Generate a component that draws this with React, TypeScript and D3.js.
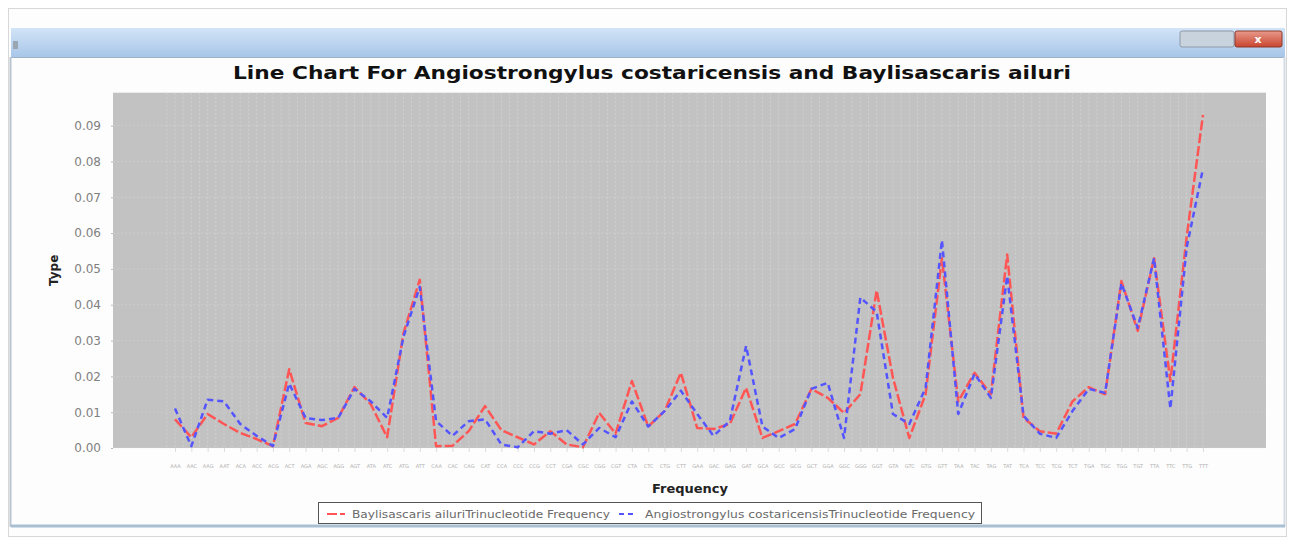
import React, { useEffect, useRef } from 'react';
import * as d3 from 'd3';

// trinucleotide categories (x axis)
const categories = [
  "AAA", "AAC", "AAG", "AAT", "ACA", "ACC", "ACG", "ACT", "AGA", "AGC", "AGG", "AGT", "ATA", "ATC", "ATG", "ATT",
  "CAA", "CAC", "CAG", "CAT", "CCA", "CCC", "CCG", "CCT", "CGA", "CGC", "CGG", "CGT", "CTA", "CTC", "CTG", "CTT",
  "GAA", "GAC", "GAG", "GAT", "GCA", "GCC", "GCG", "GCT", "GGA", "GGC", "GGG", "GGT", "GTA", "GTC", "GTG", "GTT",
  "TAA", "TAC", "TAG", "TAT", "TCA", "TCC", "TCG", "TCT", "TGA", "TGC", "TGG", "TGT", "TTA", "TTC", "TTG", "TTT",
];

const baylisascaris = [
  0.008, 0.003, 0.0095, 0.0067, 0.0042, 0.0025, 0.0005, 0.022, 0.007, 0.0061, 0.0084, 0.017, 0.0122, 0.003, 0.032, 0.047,
  0.0005, 0.0006, 0.0047, 0.0117, 0.005, 0.003, 0.001, 0.0047, 0.001, 0.0002, 0.0098, 0.004, 0.0187, 0.006, 0.0103, 0.021,
  0.0056, 0.0053, 0.0067, 0.0168, 0.0028, 0.0047, 0.0067, 0.0165, 0.014, 0.0098, 0.015, 0.044, 0.0196, 0.0028, 0.015, 0.053,
  0.013, 0.021, 0.015, 0.054, 0.0084, 0.0047, 0.004, 0.013, 0.017, 0.015, 0.0466, 0.0327, 0.053, 0.0187, 0.059, 0.093,
];

const angiostrongylus = [
  0.011, 0.0005, 0.0135, 0.013, 0.0067, 0.0034, 0.0006, 0.018, 0.0084, 0.0078, 0.0084, 0.0165, 0.013, 0.0084, 0.031, 0.045,
  0.0075, 0.0034, 0.0075, 0.008, 0.001, 0.0002, 0.0047, 0.004, 0.005, 0.001, 0.0056, 0.003, 0.013, 0.006, 0.0103, 0.016,
  0.0095, 0.0034, 0.0075, 0.0285, 0.006, 0.0028, 0.0053, 0.0165, 0.0182, 0.0028, 0.042, 0.038, 0.0095, 0.0067, 0.0168, 0.058,
  0.0095, 0.0207, 0.014, 0.048, 0.009, 0.004, 0.0028, 0.0103, 0.0165, 0.0154, 0.046, 0.0335, 0.053, 0.011, 0.056, 0.078,
];

const yTicks = [0, 0.01, 0.02, 0.03, 0.04, 0.05, 0.06, 0.07, 0.08, 0.09];

const seriesNames = [
  "Baylisascaris ailuriTrinucleotide Frequency",
  "Angiostrongylus costaricensisTrinucleotide Frequency",
];

const ChartWindow = () => {
  const svgRef = useRef<SVGSVGElement>(null);

  useEffect(() => {
    const svg = d3.select(svgRef.current);
    svg.selectAll("*").remove();

    const width = 1294;
    const height = 544;
    const plot = { left: 113, right: 1266, top: 92.7, bottom: 448 };
    const font = "DejaVu Sans, sans-serif";

    svg.attr("viewBox", [0, 0, width, height]);

    // window frame
    svg.append("rect").attr("width", width).attr("height", height).attr("fill", "#ffffff");
    svg.append("rect")
      .attr("x", 8.5).attr("y", 8.5).attr("width", 1278).attr("height", 528)
      .attr("fill", "#fdfdfd").attr("stroke", "#d8d8d8");

    const defs = svg.append("defs");
    const grad = defs.append("linearGradient").attr("id", "titlebar").attr("x1", 0).attr("x2", 0).attr("y1", 0).attr("y2", 1);
    grad.append("stop").attr("offset", "0%").attr("stop-color", "#d2e4f7");
    grad.append("stop").attr("offset", "100%").attr("stop-color", "#a8c6e8");
    const grad2 = defs.append("linearGradient").attr("id", "closebtn").attr("x1", 0).attr("x2", 0).attr("y1", 0).attr("y2", 1);
    grad2.append("stop").attr("offset", "0%").attr("stop-color", "#e89a8c");
    grad2.append("stop").attr("offset", "100%").attr("stop-color", "#c9442e");

    svg.append("rect")
      .attr("x", 11).attr("y", 28).attr("width", 1274).attr("height", 29)
      .attr("fill", "url(#titlebar)");
    svg.append("line")
      .attr("x1", 11).attr("x2", 1285).attr("y1", 57.5).attr("y2", 57.5)
      .attr("stroke", "#9fb3c8");
    svg.append("rect")
      .attr("x", 1180).attr("y", 31).attr("width", 54).attr("height", 16)
      .attr("fill", "#c9d3dd").attr("stroke", "#8e9aa8").attr("rx", 2);
    svg.append("rect")
      .attr("x", 1235).attr("y", 31).attr("width", 47).attr("height", 16)
      .attr("fill", "url(#closebtn)").attr("stroke", "#8e3a2c").attr("rx", 2);
    svg.append("text")
      .attr("x", 1258).attr("y", 43).attr("text-anchor", "middle")
      .attr("font-family", font).attr("font-size", 11).attr("font-weight", "bold")
      .attr("fill", "#ffffff").text("x");
    svg.append("rect")
      .attr("x", 13).attr("y", 41).attr("width", 5).attr("height", 8).attr("fill", "#9aa6b2");

    // side and bottom borders of the window content
    svg.append("line").attr("x1", 10.5).attr("x2", 10.5).attr("y1", 57).attr("y2", 527).attr("stroke", "#b9c4cf").attr("stroke-width", 2);
    svg.append("line").attr("x1", 1284.5).attr("x2", 1284.5).attr("y1", 57).attr("y2", 527).attr("stroke", "#d4dce4").attr("stroke-width", 2);
    svg.append("line").attr("x1", 11).attr("x2", 1285).attr("y1", 526).attr("y2", 526).attr("stroke", "#a9bfd3").attr("stroke-width", 3);

    // title
    svg.append("text")
      .attr("x", 652).attr("y", 79).attr("text-anchor", "middle")
      .attr("font-family", font).attr("font-size", 18).attr("font-weight", "bold")
      .attr("fill", "#111111")
      .attr("textLength", 838).attr("lengthAdjust", "spacingAndGlyphs")
      .text("Line Chart For Angiostrongylus costaricensis and Baylisascaris ailuri");

    const x = d3.scalePoint<string>()
      .domain(categories)
      .range([plot.left + 62, plot.right - 63]);

    const y = d3.scaleLinear()
      .domain([0, 0.0992])
      .range([plot.bottom, plot.top]);

    // plot background
    svg.append("rect")
      .attr("x", plot.left).attr("y", plot.top)
      .attr("width", plot.right - plot.left).attr("height", plot.bottom - plot.top)
      .attr("fill", "#c2c2c2");

    // gridlines: JFreeChart draws them at category edges and centres
    const step = x.step();
    const gridX = categories.flatMap(c => [x(c)! - step / 2, x(c)!]);
    svg.append("g")
      .selectAll("line")
      .data(gridX)
      .join("line")
      .attr("x1", d => d).attr("x2", d => d)
      .attr("y1", plot.top).attr("y2", plot.bottom)
      .attr("stroke", "#e2e2e2").attr("stroke-opacity", 0.45).attr("stroke-dasharray", "2,2");
    svg.append("g")
      .selectAll("line")
      .data(yTicks)
      .join("line")
      .attr("x1", plot.left).attr("x2", plot.right)
      .attr("y1", d => y(d)).attr("y2", d => y(d))
      .attr("stroke", "#e6e6e6").attr("stroke-opacity", 0.3).attr("stroke-dasharray", "2,2");

    // y axis
    svg.append("g")
      .attr("transform", `translate(${plot.left},0)`)
      .call(d3.axisLeft(y).tickValues(yTicks).tickFormat(d3.format(".2f")).tickSize(2).tickPadding(10))
      .call(g => g.select(".domain").remove())
      .call(g => g.selectAll(".tick line").attr("stroke", "#bbbbbb"))
      .call(g => g.selectAll(".tick text")
        .attr("font-family", font).attr("font-size", 12).attr("fill", "#808080"));

    svg.append("text")
      .attr("transform", `translate(58,${(plot.top + plot.bottom) / 2}) rotate(-90)`)
      .attr("text-anchor", "middle")
      .attr("font-family", font).attr("font-size", 12).attr("font-weight", "bold")
      .attr("fill", "#222222").text("Type");

    // x axis with tiny category labels
    svg.append("g")
      .attr("transform", `translate(0,${plot.bottom})`)
      .call(d3.axisBottom(x).tickSize(4).tickPadding(12))
      .call(g => g.select(".domain").remove())
      .call(g => g.selectAll(".tick line").attr("stroke", "#dddddd"))
      .call(g => g.selectAll(".tick text")
        .attr("font-family", font).attr("font-size", 5).attr("fill", "#b0b0b0"));

    svg.append("text")
      .attr("x", 690).attr("y", 493).attr("text-anchor", "middle")
      .attr("font-family", font).attr("font-size", 13).attr("font-weight", "bold")
      .attr("fill", "#222222").text("Frequency");

    // lines
    const line = d3.line<number>()
      .x((_, i) => x(categories[i])!)
      .y(d => y(d));

    svg.append("path")
      .datum(baylisascaris)
      .attr("fill", "none")
      .attr("stroke", "#ff5555")
      .attr("stroke-width", 2.5)
      .attr("stroke-dasharray", "10,3")
      .attr("stroke-linejoin", "round")
      .attr("d", line);

    svg.append("path")
      .datum(angiostrongylus)
      .attr("fill", "none")
      .attr("stroke", "#5555ff")
      .attr("stroke-width", 2.5)
      .attr("stroke-dasharray", "6,4")
      .attr("stroke-linejoin", "round")
      .attr("d", line);

    // legend
    const legend = svg.append("g");
    legend.append("rect")
      .attr("x", 318.5).attr("y", 502.5).attr("width", 663).attr("height", 21)
      .attr("fill", "#ffffff").attr("stroke", "#555555");
    const items = [
      { name: seriesNames[0], color: "#ff5555", dash: "10,3", lx: 327, tx: 352, tw: 258 },
      { name: seriesNames[1], color: "#5555ff", dash: "5,4", lx: 619, tx: 645, tw: 330 },
    ];
    items.forEach(it => {
      legend.append("line")
        .attr("x1", it.lx).attr("x2", it.lx + 18).attr("y1", 514).attr("y2", 514)
        .attr("stroke", it.color).attr("stroke-width", 2).attr("stroke-dasharray", it.dash);
      legend.append("text")
        .attr("x", it.tx).attr("y", 518)
        .attr("font-family", font).attr("font-size", 11).attr("fill", "#6a6a6a")
        .attr("textLength", it.tw).attr("lengthAdjust", "spacingAndGlyphs")
        .text(it.name);
    });
  }, []);

  return <svg ref={svgRef} width={1294} height={544} style={{ position: "absolute", left: 0, top: 0 }}></svg>;
};

export default function App() {
  return <ChartWindow />;
}
